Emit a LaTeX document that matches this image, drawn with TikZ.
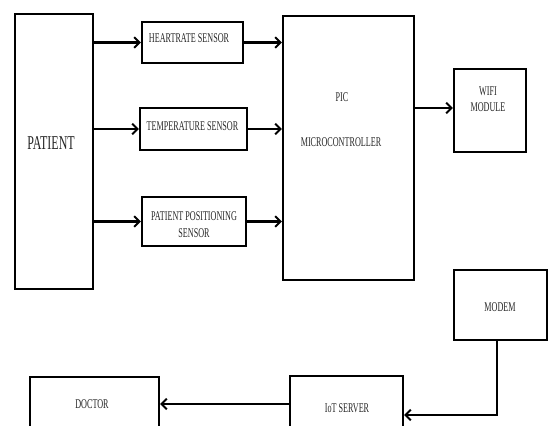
\documentclass[tikz,border=0pt]{standalone}
\usepackage{fontspec}
\setmainfont{Liberation Serif}
\usetikzlibrary{arrows.meta}
\newcommand{\cnd}[1]{\scalebox{0.61}[1]{#1}}
\tikzset{
  box/.style={draw=black, line width=1.7pt, inner sep=0pt, fill=none},
  txt/.style={inner sep=0pt, text=black!85, font=\fontsize{10}{12}\selectfont, align=center},
  arr/.style={line width=1.7pt, -{Straight Barb[length=4pt,width=8pt,line width=1.5pt]}},
  thinarr/.style={line width=1.3pt, -{Straight Barb[length=4pt,width=8pt,line width=1.5pt]}}
}
\begin{document}
\begin{tikzpicture}[x=0.75pt, y=-0.75pt]
\useasboundingbox (0,0) rectangle (553,425);
\clip (0,0) rectangle (553,425);
% boxes (centres and sizes in px)
\node[box, minimum width=58.5pt, minimum height=206.25pt] (patient) at (54,151.5) {};
\node[box, minimum width=75.75pt, minimum height=30.75pt] (hr) at (192.5,42.5) {};
\node[box, minimum width=80.25pt, minimum height=31.5pt] (temp) at (193.5,129) {};
\node[box, minimum width=78pt, minimum height=36.75pt] (pos) at (194,221.5) {};
\node[box, minimum width=98.25pt, minimum height=198pt] (pic) at (348.5,148) {};
\node[box, minimum width=54pt, minimum height=62.25pt] (wifi) at (490,110.5) {};
\node[box, minimum width=69.75pt, minimum height=52.5pt] (modem) at (500.5,305) {};
\node[box, minimum width=84.75pt, minimum height=48pt] (iot) at (346.5,408) {};
\node[box, minimum width=96.75pt, minimum height=40.5pt] (doctor) at (94.5,404) {};
% texts
\node[txt, font=\fontsize{14.7}{16}\selectfont] (tpatient) at (51,143) {\cnd{PATIENT}};
\node[txt] (thr) at (189,38) {\cnd{HEARTRATE SENSOR}};
\node[txt] (ttemp) at (192.5,126) {\cnd{TEMPERATURE SENSOR}};
\node[txt] (tpos) at (194,224.5) {\cnd{PATIENT POSITIONING}\\[0.4pt]\cnd{SENSOR}};
\node[txt] (tpic1) at (342,97) {\cnd{PIC}};
\node[txt] (tpic2) at (341,142) {\cnd{MICROCONTROLLER}};
\node[txt] (twifi) at (488,99) {\cnd{WIFI}\\[0.4pt]\cnd{MODULE}};
\node[txt] (tmodem) at (500,307) {\cnd{MODEM}};
\node[txt] (tiot) at (347,408) {\cnd{IoT SERVER}};
\node[txt] (tdoctor) at (92,404) {\cnd{DOCTOR}};
% connectors
\draw[arr] (patient.east |- hr.west) -- (hr.west);
\draw[arr] (patient.east |- temp.west) -- (temp.west);
\draw[arr] (patient.east |- pos.west) -- (pos.west);
\draw[arr] (hr.east) -- (pic.west |- hr.east);
\draw[arr] (temp.east) -- (pic.west |- temp.east);
\draw[arr] (pos.east) -- (pic.west |- pos.east);
\coordinate (wifiin) at (wifi.west |- 0,108);
\draw[arr] (pic.east |- wifiin) -- (wifiin);
\coordinate (turn) at (497,415);
\draw[thinarr] (modem.south -| turn) |- (iot.east |- turn);
\draw[arr] (iot.west |- doctor.east) -- (doctor.east);
\end{tikzpicture}
\end{document}
